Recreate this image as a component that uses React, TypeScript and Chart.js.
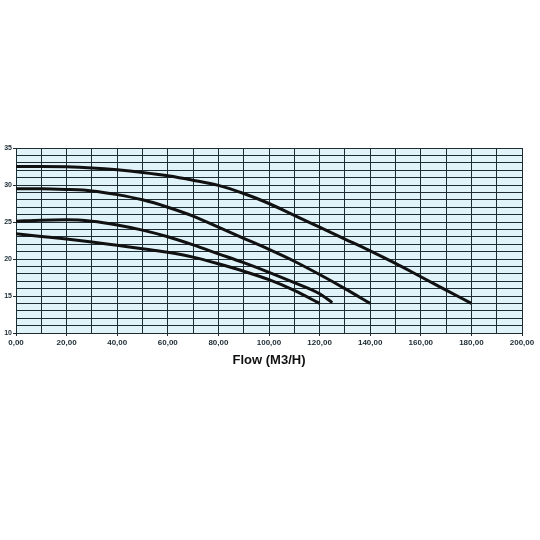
import { useEffect, useRef } from 'react';
import { Chart, registerables } from 'chart.js';

Chart.register(...registerables);

// pump curves: flow (m3/h) vs head (m)
const flow1 = [0, 10, 20, 30, 40, 50, 60, 70, 80, 90, 100, 110, 120, 130, 140, 150, 160, 170, 180];
const head1 = [32.5, 32.5, 32.45, 32.3, 32.05, 31.7, 31.25, 30.65, 29.95, 28.85, 27.5, 25.9, 24.3, 22.7, 21.1, 19.4, 17.6, 15.8, 14.0];

const flow2 = [0, 10, 20, 30, 40, 50, 60, 70, 80, 90, 100, 110, 120, 130, 140];
const head2 = [29.5, 29.5, 29.4, 29.2, 28.7, 28.0, 27.0, 25.8, 24.3, 22.8, 21.3, 19.7, 17.9, 16.0, 14.0];

const flow3 = [0, 10, 20, 30, 40, 50, 60, 70, 80, 90, 100, 110, 120, 125];
const head3 = [25.1, 25.25, 25.3, 25.1, 24.6, 23.9, 23.0, 21.9, 20.7, 19.5, 18.2, 16.8, 15.3, 14.1];

const flow4 = [0, 10, 20, 30, 40, 50, 60, 70, 80, 90, 100, 110, 120];
const head4 = [23.4, 23.05, 22.7, 22.3, 21.85, 21.4, 20.9, 20.25, 19.35, 18.35, 17.2, 15.75, 14.0];

const curves = [
    [flow1, head1],
    [flow2, head2],
    [flow3, head3],
    [flow4, head4],
];

const gridColor = '#1d2b33';

const plotBackground = {
    id: 'plotBackground',
    beforeDraw: (chart: any) => {
        const { ctx, chartArea } = chart;
        ctx.save();
        ctx.fillStyle = '#dff3f9';
        ctx.fillRect(chartArea.left, chartArea.top, chartArea.right - chartArea.left, chartArea.bottom - chartArea.top);
        ctx.restore();
    }
};

const PumpChart = () => {
    const chartRef = useRef<HTMLCanvasElement>(null);

    useEffect(() => {
        document.body.style.margin = '0';
        const ctx = chartRef.current!.getContext('2d')!;
        const chart = new Chart(ctx, {
            type: 'line',
            data: {
                datasets: curves.map(([xs, ys]) => ({
                    data: xs.map((x, i) => ({ x, y: ys[i] })),
                    borderColor: '#111',
                    borderWidth: 3,
                    pointRadius: 0,
                    fill: false,
                    cubicInterpolationMode: 'monotone' as const,
                }))
            },
            options: {
                responsive: false,
                animation: false,
                layout: {
                    padding: { top: 148, right: 18, bottom: 167, left: 0 }
                },
                plugins: {
                    legend: { display: false },
                    tooltip: { enabled: false }
                },
                scales: {
                    x: {
                        type: 'linear',
                        min: 0,
                        max: 200,
                        afterFit: (scale: any) => { scale.height = 40; },
                        border: { color: gridColor, width: 1 },
                        grid: {
                            color: gridColor,
                            lineWidth: 1,
                            tickLength: 3,
                            tickColor: (c: any) => (c.tick && c.tick.value % 20 === 0 ? gridColor : 'transparent'),
                        },
                        ticks: {
                            stepSize: 10,
                            padding: 2,
                            maxRotation: 0,
                            autoSkip: false,
                            color: '#1a2a33',
                            font: { family: 'Liberation Sans', size: 8, weight: 'bold' },
                            callback: (v: any) => (v % 20 === 0 ? Number(v).toFixed(2).replace('.', ',') : ''),
                        },
                        title: {
                            display: true,
                            text: 'Flow (M3/H)',
                            color: '#111',
                            font: { family: 'Liberation Sans', size: 13, weight: 'bold' },
                            padding: { top: 0, bottom: 5 },
                        }
                    },
                    y: {
                        min: 10,
                        max: 35,
                        afterFit: (scale: any) => { scale.width = 16; },
                        border: { color: gridColor, width: 1 },
                        grid: {
                            color: gridColor,
                            lineWidth: 1,
                            tickLength: 3,
                            tickColor: (c: any) => (c.tick && c.tick.value % 5 === 0 ? gridColor : 'transparent'),
                        },
                        ticks: {
                            stepSize: 1,
                            padding: 1,
                            autoSkip: false,
                            color: '#1a2a33',
                            font: { family: 'Liberation Sans', size: 7, weight: 'bold' },
                            callback: (v: any) => (v % 5 === 0 ? String(v) : ''),
                        }
                    }
                }
            },
            plugins: [plotBackground]
        });

        return () => {
            chart.destroy();
        };
    }, []);

    return <canvas ref={chartRef} width={540} height={540} style={{ display: 'block' }}></canvas>;
};

export default function App() {
    return <PumpChart />;
}
